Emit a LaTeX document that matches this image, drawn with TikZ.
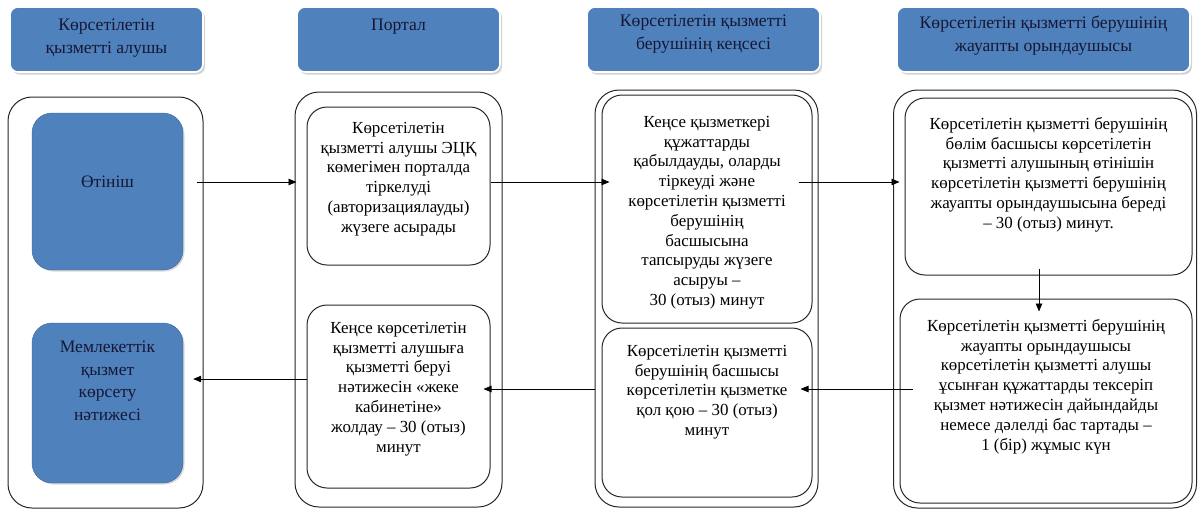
\documentclass[tikz,border=0pt]{standalone}
\usepackage{fontspec}
\setmainfont{Liberation Serif}
\usetikzlibrary{arrows.meta,shadows,calc}
\definecolor{hdrblue}{HTML}{4F81BD}
\definecolor{inktext}{rgb}{0.09,0.09,0.2}
\begin{document}
\begin{tikzpicture}[x=1pt,y=-1pt,
  lane/.style={draw=black!85,line width=1pt,rounded corners=24pt,inner sep=0pt},
  stepbox/.style={draw=black!85,line width=1pt,rounded corners=20pt,inner sep=0pt},
  bluebox/.style={fill=hdrblue,draw=hdrblue!80!black,line width=0.4pt,rounded corners=20pt,inner sep=0pt,
    drop shadow={shadow xshift=1.5pt,shadow yshift=-1.5pt,opacity=0.3}},
  hdr/.style={fill=hdrblue,draw=white,line width=1.6pt,rounded corners=8pt,inner sep=0pt,
    drop shadow={shadow xshift=2pt,shadow yshift=-2.5pt,opacity=0.35}},
  htxt/.style={anchor=north,inner sep=0pt,align=center,text=inktext,font=\fontsize{17.6}{23}\selectfont},
  btxt/.style={anchor=north,inner sep=0pt,align=center,text=black,font=\fontsize{16.9}{19.8}\selectfont},
  arr/.style={draw=black,line width=0.8pt,-{Triangle[length=8pt,width=6.5pt]}}
]
\useasboundingbox (0,0) rectangle (1199,512);

% column headers
\node[hdr,minimum width=193,minimum height=65] (h1) at (106.5,39.5) {};
\node[hdr,minimum width=203,minimum height=65] (h2) at (398.5,39.5) {};
\node[hdr,minimum width=233,minimum height=65] (h3) at (703.5,39.5) {};
\node[hdr,minimum width=293,minimum height=65] (h4) at (1043.5,39.5) {};
\node[htxt] (h1t) at (106.5,19) {Көрсетілетін\\қызметті алушы};
\node[htxt] (h2t) at (398.5,19) {Портал};
\node[htxt] (h3t) at (703.5,15) {Көрсетілетін қызметті\\берушінің кеңсесі};
\node[htxt] (h4t) at (1043.5,16) {Көрсетілетін қызметті берушінің\\жауапты орындаушысы};

% lanes
\node[lane,minimum width=195,minimum height=411] (c1) at (105.5,302.5) {};
\node[lane,minimum width=207,minimum height=415] (c2) at (398.5,299.5) {};
\node[lane,minimum width=223,minimum height=417] (c3) at (706.5,298.5) {};
\node[lane,minimum width=303,minimum height=418] (c4) at (1045,299) {};

% lane 1: applicant
\node[bluebox,minimum width=151,minimum height=157] (b1) at (107.5,191.5) {};
\node[bluebox,minimum width=151,minimum height=160] (b2) at (107.5,403) {};
\node[htxt,font=\fontsize{17.5}{22.5}\selectfont] (b1t) at (107.5,176) {Өтініш};
\node[htxt,font=\fontsize{17.5}{22.5}\selectfont] (b2t) at (107.5,341) {Мемлекеттік\\қызмет\\көрсету\\нәтижесі};

% lane 2: portal
\node[stepbox,minimum width=183,minimum height=158] (c2t) at (398.5,186) {};
\node[stepbox,minimum width=183,minimum height=183] (c2b) at (398.5,396.5) {};
\node[btxt] (c2tt) at (398.5,122) {Көрсетілетін\\қызметті алушы ЭЦҚ\\көмегімен порталда\\тіркелуді\\(авторизациялауды)\\жүзеге асырады};
\node[btxt] (c2bt) at (398.5,322) {Кеңсе көрсетілетін\\қызметті алушыға\\қызметті беруі\\нәтижесін «жеке\\кабинетіне»\\жолдау – 30 (отыз)\\минут};

% lane 3: office
\node[stepbox,minimum width=210,minimum height=228] (c3t) at (707,209) {};
\node[stepbox,minimum width=210,minimum height=169] (c3b) at (707,412.5) {};
\node[btxt] (c3tt) at (707,116) {Кеңсе қызметкері\\құжаттарды\\қабылдауды, оларды\\тіркеуді және\\көрсетілетін қызметті\\берушінің\\басшысына\\тапсыруды жүзеге\\асыруы –\\30 (отыз) минут};
\node[btxt] (c3bt) at (707,345) {Көрсетілетін қызметті\\берушінің басшысы\\көрсетілетін қызметке\\қол қою – 30 (отыз)\\минут};

% lane 4: responsible executor
\node[stepbox,minimum width=287,minimum height=177] (c4t) at (1048.5,186.5) {};
\node[stepbox,minimum width=292,minimum height=204] (c4b) at (1046,401) {};
\node[btxt] (c4tt) at (1048.5,117) {Көрсетілетін қызметті берушінің\\бөлім басшысы көрсетілетін\\қызметті алушының өтінішін\\көрсетілетін қызметті берушінің\\жауапты орындаушысына береді\\– 30 (отыз) минут.};
\node[btxt] (c4bt) at (1046,319) {Көрсетілетін қызметті берушінің\\жауапты орындаушысы\\көрсетілетін қызметті алушы\\ұсынған құжаттарды тексеріп\\қызмет нәтижесін дайындайды\\немесе дәлелді бас тартады –\\1 (бір) жұмыс күн};

% arrow levels
\coordinate (r1) at (0,182);
\coordinate (r2) at (0,389);
\coordinate (r3) at (0,379);

% connectors
\draw[arr] ([xshift=14pt]b1.east |- r1) -- ([xshift=2pt]c2.west |- r1);
\draw[arr] (c2t.east |- r1) -- ([xshift=8pt]c3t.west |- r1);
\draw[arr] ([xshift=-14pt]c3t.east |- r1) -- ([xshift=-5pt]c4t.west |- r1);
\draw[arr] ($(c4t.south)+(-9.5,-7)$) -- ($(c4b.north)+(-7,13)$);
\draw[arr] ([xshift=13pt]c4b.west |- r2) -- ([xshift=-12pt]c3b.east |- r2);
\draw[arr] (c3.west |- r2) -- ([xshift=-7pt]c2b.east |- r2);
\draw[arr] (c2b.west |- r3) -- ([xshift=10pt]b2.east |- r3);
\end{tikzpicture}
\end{document}
